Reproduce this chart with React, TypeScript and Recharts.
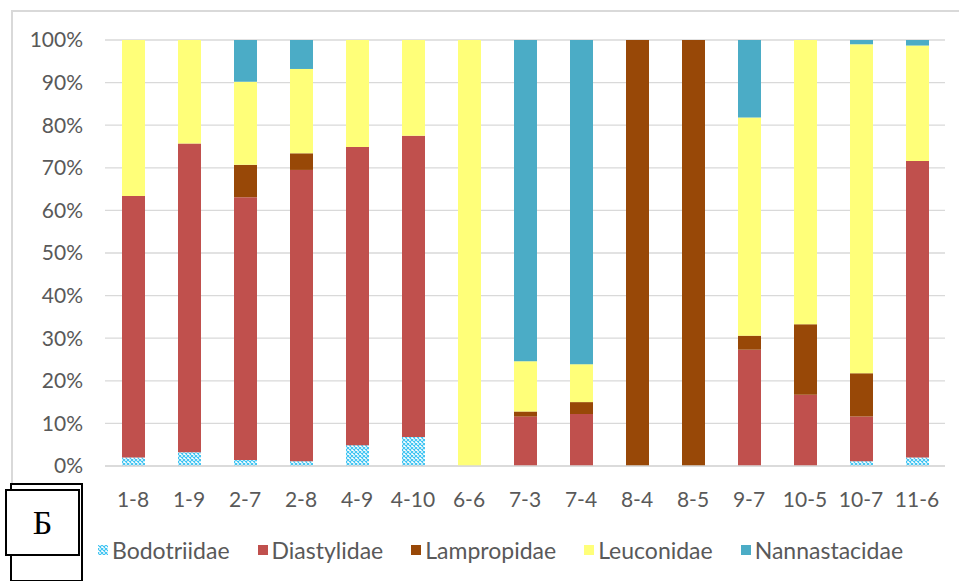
import React from 'react'
import { BarChart, Bar, XAxis, YAxis, CartesianGrid } from 'recharts'

const categories = ['1-8', '1-9', '2-7', '2-8', '4-9', '4-10', '6-6', '7-3', '7-4', '8-4', '8-5', '9-7', '10-5', '10-7', '11-6']

// shares in % per station
const bodotriidae = [2.0, 3.2, 1.4, 1.1, 4.9, 6.8, 0, 0, 0, 0, 0, 0, 0, 1.1, 2.0]
const diastylidae = [61.4, 72.5, 61.7, 68.4, 70.0, 70.7, 0, 11.6, 12.2, 0, 0, 27.3, 16.7, 10.5, 69.6]
const lampropidae = [0, 0, 7.6, 3.9, 0, 0, 0, 1.2, 2.8, 100, 100, 3.3, 16.6, 10.2, 0]
const leuconidae = [36.6, 24.3, 19.5, 19.8, 25.1, 22.5, 100, 11.8, 8.9, 0, 0, 51.2, 66.7, 77.2, 27.1]
const nannastacidae = [0, 0, 9.8, 6.8, 0, 0, 0, 75.4, 76.1, 0, 0, 18.2, 0, 1.0, 1.3]

const yTicks = [0, 0.1, 0.2, 0.3, 0.4, 0.5, 0.6, 0.7, 0.8, 0.9, 1]

const seriesNames = ['Bodotriidae', 'Diastylidae', 'Lampropidae', 'Leuconidae', 'Nannastacidae']

const data = categories.map((name, i) => ({
  name,
  Bodotriidae: bodotriidae[i],
  Diastylidae: diastylidae[i],
  Lampropidae: lampropidae[i],
  Leuconidae: leuconidae[i],
  Nannastacidae: nannastacidae[i],
}))

const colors: Record<string, string> = {
  Bodotriidae: 'url(#bodoPattern)',
  Diastylidae: '#C0504D',
  Lampropidae: '#984807',
  Leuconidae: '#FFFF79',
  Nannastacidae: '#4BACC6',
}

const FONT = 'Lato, "Liberation Sans", sans-serif'
const GRAY = '#595959'

const PatternDef = ({ id }: { id: string }) => (
  <pattern id={id} width="4" height="4" patternUnits="userSpaceOnUse">
    <rect width="4" height="4" fill="#ffffff" />
    <path d="M0,0 L4,4 M4,0 L0,4" stroke="#3DC3F2" strokeWidth="1.1" />
  </pattern>
)

const LegendRow = () => (
  <div
    style={{
      position: 'absolute',
      left: 98,
      top: 536,
      display: 'flex',
      alignItems: 'center',
      gap: 28,
      fontFamily: FONT,
      fontSize: 23,
      color: GRAY,
      whiteSpace: 'nowrap',
    }}
  >
    {seriesNames.map((s) => (
      <div key={s} style={{ display: 'flex', alignItems: 'center' }}>
        <svg width={10} height={10} style={{ marginRight: 4 }}>
          <defs>
            <PatternDef id={'lg' + s} />
          </defs>
          <rect width={10} height={10} fill={s === 'Bodotriidae' ? 'url(#lg' + s + ')' : colors[s]} />
        </svg>
        <span>{s}</span>
      </div>
    ))}
  </div>
)

export default function App() {
  return (
    <div style={{ position: 'absolute', left: 0, top: 0, width: 959, height: 581, overflow: 'hidden', background: '#fff' }}>
      {/* chart frame */}
      <div
        style={{
          position: 'absolute',
          left: 11,
          top: 10,
          width: 1000,
          height: 700,
          borderLeft: '2px solid #D9D9D9',
          borderTop: '2px solid #D9D9D9',
        }}
      />
      <div style={{ position: 'absolute', left: 0, top: 0 }}>
        <BarChart
          width={959}
          height={581}
          data={data}
          stackOffset="expand"
          barSize={23}
          margin={{ top: 40, right: 14, left: 15, bottom: 75 }}
        >
          <defs>
            <PatternDef id="bodoPattern" />
          </defs>
          <CartesianGrid vertical={false} stroke="#D9D9D9" strokeWidth={1.3} />
          <XAxis
            dataKey="name"
            height={40}
            tickLine={false}
            tickSize={0}
            tickMargin={26}
            axisLine={{ stroke: '#D9D9D9', strokeWidth: 1.3 }}
            interval={0}
            tick={{ fill: GRAY, fontSize: 21, fontFamily: FONT }}
          />
          <YAxis
            width={90}
            domain={[0, 1]}
            ticks={yTicks}
            tickFormatter={(v: number) => Math.round(v * 100) + '%'}
            axisLine={false}
            tickLine={false}
            tickSize={0}
            tickMargin={22}
            tick={{ fill: GRAY, fontSize: 21, fontFamily: FONT }}
          />
          {seriesNames.map((s) => (
            <Bar key={s} dataKey={s} stackId="a" fill={colors[s]} isAnimationActive={false} />
          ))}
        </BarChart>
      </div>
      <LegendRow />
      {/* panel label box */}
      <div
        style={{
          position: 'absolute',
          left: 10,
          top: 483,
          width: 69,
          height: 95,
          border: '2px solid #000',
          background: '#fff',
        }}
      />
      <div
        style={{
          position: 'absolute',
          left: 5,
          top: 489,
          width: 71,
          height: 63,
          border: '2px solid #000',
          background: '#fff',
          display: 'flex',
          alignItems: 'center',
          justifyContent: 'center',
          fontFamily: '"Liberation Serif", serif',
          fontSize: 34,
          color: '#000',
        }}
      >
        Б
      </div>
    </div>
  )
}
